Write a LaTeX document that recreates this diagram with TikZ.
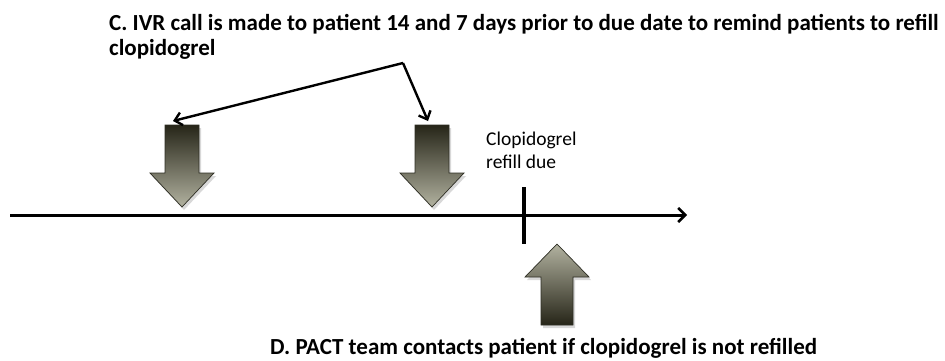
\documentclass[tikz,border=0pt]{standalone}
\usepackage{fontspec}
\setmainfont{Carlito}
\usetikzlibrary{arrows.meta}
\definecolor{arrdark}{RGB}{38,37,24}
\definecolor{arrlight}{RGB}{178,178,160}
\definecolor{arredge}{RGB}{45,45,35}
\newcommand\dnblock[2]{%
  \fill[black!30,opacity=0.5] (#1-17+2,125+3) -- (#1+17+2,125+3) -- (#1+17+2,173+3) -- (#1+32+2,173+3) -- (#1+2,207+3) -- (#1-32+2,173+3) -- (#1-17+2,173+3) -- cycle;
  \shadedraw[blockarr,top color=arrdark,bottom color=arrlight] (#1-17,125) -- (#1+17,125) -- (#1+17,173) -- (#1+32,173) -- (#1,207) -- (#1-32,173) -- (#1-17,173) -- cycle;
  \coordinate (#2) at (#1,125);}
\begin{document}
\begin{tikzpicture}[x=1pt,y=-1pt,
  blockarr/.style={draw=arredge,line width=0.7pt,line join=miter},
  titletext/.style={anchor=base west,inner sep=0pt,font=\fontsize{23}{25}\selectfont\bfseries},
  smalltext/.style={anchor=base west,inner sep=0pt,align=left,font=\fontsize{19.5}{23}\selectfont},
  connector/.style={line width=2.4pt,-{Straight Barb[length=7pt,width=13pt,line width=2.4pt]}},
  timeline/.style={line width=3pt,-{Straight Barb[length=7pt,width=14pt,line width=2.6pt]}}]
\useasboundingbox (0,0) rectangle (945,360);
% title
\node[titletext] (c1) at (109,30) {C. IVR call is made to patient 14 and 7 days prior to due date to remind patients to refill};
\node[titletext] (c2) at (109,55) {clopidogrel};
% block arrows
\dnblock{182}{d1}
\dnblock{432}{d2}
% up arrow
\fill[black!30,opacity=0.5] (557+2,244+3) -- (589+2,277+3) -- (573+2,277+3) -- (573+2,325+3) -- (541+2,325+3) -- (541+2,277+3) -- (525+2,277+3) -- cycle;
\shadedraw[blockarr,top color=arrlight,bottom color=arrdark] (557,244) -- (589,277) -- (573,277) -- (573,325) -- (541,325) -- (541,277) -- (525,277) -- cycle;
\coordinate (u1) at (557,325);
% connectors from title
\coordinate (v) at (403,63);
\coordinate (t1) at (173,121);
\coordinate (t2) at (428,121);
\draw[connector] (v) -- (t1);
\draw[connector] (v) -- (t2);
% timeline
\coordinate (ts) at (10,215);
\coordinate (te) at (687,215);
\draw[timeline] (ts) -- (te);
\coordinate (k1) at (524,187);
\coordinate (k2) at (524,244);
\draw[line width=3.5pt] (k1) -- (k2);
% labels
\node[smalltext] (due) at (486,168) {Clopidogrel\\refill due};
\node[titletext] (d) at (270,354.5) {D. PACT team contacts patient if clopidogrel is not refilled};
\end{tikzpicture}
\end{document}
